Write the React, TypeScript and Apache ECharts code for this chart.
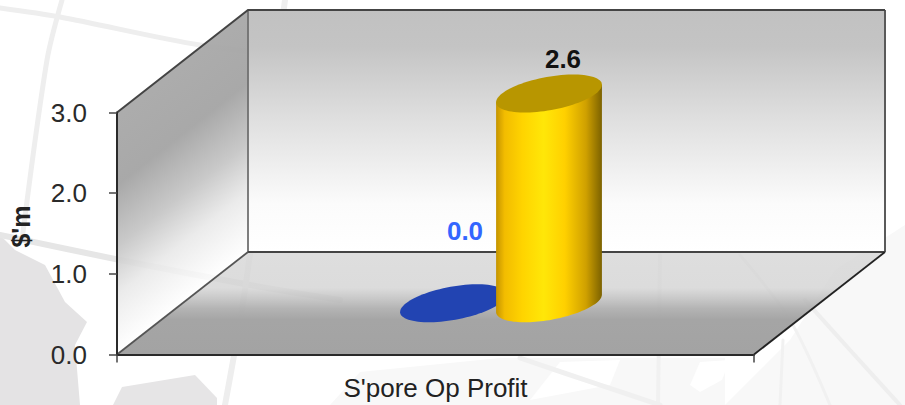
import React, { useEffect, useRef } from "react";
import * as echarts from "echarts";

const categories = ["S'pore Op Profit"];
const blueValues = [0.0];
const goldValues = [2.6];
const yTicks = { min: 0, max: 3, interval: 1 };
const axisTitle = "$'m";

const FONT = "'Liberation Sans', Arial, sans-serif";
const DX = 131;
const DY = 102.5;
const A = 47;
const B = 24.3;
const C = 19;
const T0 = Math.atan(B / A);
const LG = echarts.graphic.LinearGradient;

function ellipsePts(cx: number, cy: number, from: number, to: number, n = 60) {
  const pts: number[][] = [];
  for (let i = 0; i <= n; i++) {
    const t = from + ((to - from) * i) / n;
    pts.push([cx + A * Math.cos(t) + B * Math.sin(t), cy - C * Math.sin(t)]);
  }
  return pts;
}

function renderFrame(params: any) {
  const s = params.coordSys;
  const l = s.x, t = s.y, r = s.x + s.width, b = s.y + s.height;
  const line = (pts: number[][], color: string, w: number) => ({
    type: "polyline",
    shape: { points: pts },
    style: { fill: "none", stroke: color, lineWidth: w },
  });
  return {
    type: "group",
    children: [
      {
        type: "polygon",
        shape: { points: [[l + DX, t - DY], [r + DX, t - DY], [r + DX, b - DY], [l + DX, b - DY]] },
        style: {
          fill: new LG(0, 0, 0, 1, [
            { offset: 0, color: "#c1c1c1" },
            { offset: 0.15, color: "#c4c4c4" },
            { offset: 0.45, color: "#dfdfdf" },
            { offset: 0.8, color: "#fbfbfb" },
            { offset: 1, color: "#ffffff" },
          ]),
        },
      },
      {
        type: "polygon",
        shape: { points: [[l, b], [l + DX, b - DY], [l + DX, t - DY], [l, t]] },
        style: {
          fill: new LG(l, t, l + 118, t + 150.5, [
            { offset: 0, color: "rgba(168,168,168,0.95)" },
            { offset: 0.3, color: "rgba(164,164,164,0.95)" },
            { offset: 0.55, color: "rgba(196,196,196,0.92)" },
            { offset: 0.75, color: "rgba(232,232,232,0.88)" },
            { offset: 1, color: "rgba(255,255,255,0.8)" },
          ], true),
        },
      },
      {
        type: "polygon",
        shape: { points: [[l, b], [r, b], [r + DX, b - DY], [l + DX, b - DY]] },
        style: {
          fill: new LG(0, 0, 0, 1, [
            { offset: 0, color: "rgba(214,214,214,0.8)" },
            { offset: 0.35, color: "rgba(212,212,212,0.82)" },
            { offset: 0.55, color: "rgba(176,176,176,0.95)" },
            { offset: 0.66, color: "#a5a5a5" },
            { offset: 1, color: "#a3a3a3" },
          ]),
        },
      },
      line([[l + DX, b - DY], [l + DX, t - DY]], "#707070", 1.8),
      line([[l + DX, b - DY], [r + DX, b - DY]], "#444444", 2),
      line([[r + DX, b - DY], [r + DX, t - DY]], "#5a5a5a", 2),
      line([[l, t], [l + DX, t - DY], [r + DX, t - DY]], "#444444", 2),
      line([[l, b], [l + DX, b - DY]], "#555555", 1.8),
      line([[r, b], [r + DX, b - DY]], "#222222", 1.8),
    ],
  };
}

function makeCylinder(spread: number, topColor: string, sideStops: any[] | null, labelColor: string, lift: number, shift: number) {
  return (params: any, api: any) => {
    const v = api.value(1);
    const base = api.coord([params.dataIndex, 0]);
    const top = api.coord([params.dataIndex, v]);
    const cx = base[0] + DX / 2 + spread;
    const by = base[1] - DY / 2;
    const ty = top[1] - DY / 2;
    const children: any[] = [];
    if (sideStops && v > 0) {
      const pts = ellipsePts(cx, by, T0, T0 - Math.PI);
      const tl = ellipsePts(cx, ty, T0 - Math.PI, T0, 1);
      children.push({
        type: "polygon",
        shape: { points: pts.concat(tl) },
        style: { fill: new LG(0, 0, 1, 0, sideStops) },
      });
    }
    children.push({
      type: "polygon",
      shape: { points: ellipsePts(cx, ty, 0, Math.PI * 2, 90) },
      style: { fill: topColor },
    });
    children.push({
      type: "text",
      x: cx + shift,
      y: ty - lift,
      style: {
        text: v.toFixed(1),
        fill: labelColor,
        font: `bold 26px ${FONT}`,
        align: "center",
        verticalAlign: "middle",
      },
    });
    return { type: "group", children };
  };
}

const goldStops = [
  { offset: 0, color: "#c49400" },
  { offset: 0.08, color: "#f2bc00" },
  { offset: 0.25, color: "#ffd400" },
  { offset: 0.45, color: "#ffe708" },
  { offset: 0.65, color: "#ffd000" },
  { offset: 0.85, color: "#cfa000" },
  { offset: 1, color: "#7c6200" },
];

const bgLine = (points: number[][], w = 5, color = "#eeeeee") => ({
  type: "polyline",
  shape: { points, smooth: 0.3 },
  style: { fill: "none", stroke: color, lineWidth: w, lineCap: "round" },
  silent: true,
});
const bgArea = (points: number[][], fill: string) => ({
  type: "polygon",
  shape: { points },
  style: { fill },
  silent: true,
});

const background = [
  bgArea([[725, 405], [790, 340], [835, 270], [905, 225], [905, 405]], "#f8f8f8"),
  bgArea([[330, 405], [360, 372], [500, 358], [725, 358], [725, 405]], "#f8f8f8"),
  bgArea([[690, 385], [700, 362], [730, 360], [722, 380], [700, 392]], "#ffffff"),
  bgArea([[530, 400], [560, 362], [620, 360], [610, 385]], "#ffffff"),
  bgArea([[0, 235], [15, 250], [45, 265], [65, 302], [87, 322], [75, 345], [80, 405], [0, 405]], "#e4e3e4"),
  bgArea([[113, 405], [122, 387], [195, 375], [217, 398], [217, 405]], "#e6e5e6"),
  bgLine([[62, 0], [47, 60], [22, 240]], 5),
  bgLine([[0, 8], [60, 17], [200, 45], [330, 60]], 5),
  bgLine([[0, 235], [120, 260], [250, 285], [340, 300]], 6, "#e6e6e6"),
  bgLine([[285, 0], [245, 290], [225, 405]], 6),
  bgLine([[660, 255], [658, 405]], 4, "#f1f1f1"),
  bgLine([[783, 340], [780, 405]], 3, "#f1f1f1"),
  bgLine([[520, 358], [600, 385], [660, 405]], 5, "#f0f0f0"),
  bgLine([[805, 300], [850, 350], [900, 405]], 4, "#eeeeee"),
  bgLine([[740, 255], [790, 320], [830, 405]], 3, "#f1f1f1"),
];

export default function App() {
  const ref = useRef<HTMLDivElement>(null);
  useEffect(() => {
    const chart = echarts.init(ref.current!, undefined, { renderer: "svg" });
    chart.setOption({
      animation: false,
      backgroundColor: "#ffffff",
      graphic: { elements: background },
      grid: { left: 117, right: 151, top: 112.5, bottom: 50.5, outerBoundsMode: "none" },
      xAxis: {
        type: "category",
        data: categories,
        z: 5,
        axisLine: { lineStyle: { color: "#2a2a2a", width: 2 } },
        axisTick: { show: true, length: 8, lineStyle: { color: "#444444", width: 1.5 } },
        axisLabel: { fontFamily: FONT, fontSize: 26, color: "#222222", margin: 20 },
      },
      yAxis: {
        type: "value",
        min: yTicks.min,
        max: yTicks.max,
        interval: yTicks.interval,
        z: 5,
        name: axisTitle,
        nameLocation: "middle",
        nameGap: 84,
        nameRotate: 90,
        nameTextStyle: { fontFamily: FONT, fontWeight: "bold", fontSize: 25, color: "#222222", padding: [0, 0, 0, 14] },
        splitLine: { show: false },
        axisLine: { show: true, lineStyle: { color: "#2a2a2a", width: 2 } },
        axisTick: { show: true, length: 8, lineStyle: { color: "#444444", width: 1.5 } },
        axisLabel: {
          fontFamily: FONT,
          fontSize: 26,
          color: "#2a2a2a",
          margin: 30,
          formatter: (v: number) => v.toFixed(1),
        },
      },
      series: [
        {
          type: "custom",
          name: "frame",
          z: 1,
          silent: true,
          clip: false,
          renderItem: renderFrame,
          data: categories.map((_, i) => [i, 0]),
        },
        {
          type: "custom",
          name: "blue",
          z: 2,
          clip: false,
          renderItem: makeCylinder(-48, "#2244b2", null, "#3366ff", 72, 12),
          encode: { x: 0, y: 1 },
          data: blueValues.map((v, i) => [i, v]),
        },
        {
          type: "custom",
          name: "gold",
          z: 3,
          clip: false,
          renderItem: makeCylinder(48, "#b89600", goldStops, "#111111", 34.5, 14),
          encode: { x: 0, y: 1 },
          data: goldValues.map((v, i) => [i, v]),
        },
      ],
    });
    return () => chart.dispose();
  }, []);
  return <div ref={ref} style={{ position: "fixed", left: 0, top: 0, width: 905, height: 405 }} />;
}
